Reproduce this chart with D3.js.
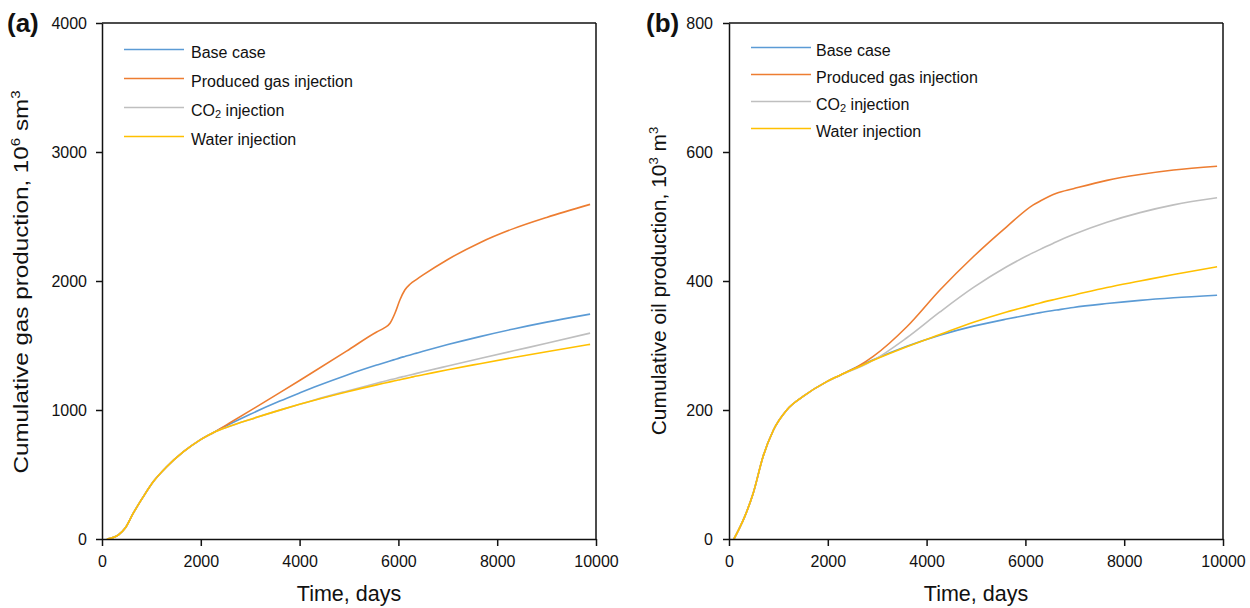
<!DOCTYPE html>
<html>
<head>
<meta charset="utf-8">
<script src="https://cdn.jsdelivr.net/npm/d3@7"></script>
<style>
  html, body { margin: 0; padding: 0; background: #fff; }
  svg { display: block; font-family: "Liberation Sans", Arial, sans-serif; }
</style>
</head>
<body>
<svg id="chart" width="1250" height="608"></svg>
<script>
// ---- Data ----------------------------------------------------------------
const seriesNames = ["Base case", "Produced gas injection", "CO2 injection", "Water injection"];
const seriesColors = ["#5B9BD5", "#ED7D31", "#BFBFBF", "#FFC000"];

// (a) cumulative gas production, 10^6 sm^3
const gasDays   = [100, 330, 470, 630, 840, 1040, 1310, 1650, 1980, 2250, 2600, 3000, 3600, 4000, 4300, 4950, 5560, 5700, 5830, 5930, 6030, 6130, 6240, 6370, 6500, 7000, 7650, 8330, 9000, 9880];
const gasBase   = [0, 31, 85, 198, 330, 445, 560, 677, 767, 824, 893, 967, 1069, 1132, 1178, 1270, 1348, 1365, 1380, 1392, 1404, 1415, 1427, 1441, 1455, 1507, 1569, 1628, 1681, 1743];
const gasProd   = [0, 31, 85, 198, 330, 445, 560, 677, 767, 824, 903, 995, 1135, 1229, 1300, 1456, 1605, 1633, 1672, 1750, 1853, 1930, 1977, 2013, 2047, 2167, 2297, 2406, 2493, 2594];
const gasCO2    = [0, 31, 85, 198, 330, 445, 560, 677, 767, 824, 876, 927, 999, 1044, 1078, 1146, 1207, 1221, 1234, 1243, 1253, 1262, 1272, 1284, 1296, 1341, 1399, 1459, 1517, 1596];
const gasWater  = [0, 31, 85, 198, 330, 445, 560, 677, 767, 824, 876, 927, 999, 1044, 1076, 1140, 1195, 1207, 1218, 1227, 1235, 1243, 1252, 1263, 1273, 1312, 1359, 1407, 1452, 1509];

// (b) cumulative oil production, 10^3 m^3
const oilDays   = [100, 320, 490, 690, 900, 1170, 1500, 1980, 2250, 2600, 2920, 3600, 4270, 4950, 5620, 6160, 6300, 6630, 6970, 7650, 8320, 9000, 9880];
const oilBase   = [0, 35, 71, 128, 169, 200, 221, 244, 254, 267, 278, 299, 316, 330, 341, 349, 351, 355, 359, 365, 370, 374, 378];
const oilProd   = [0, 35, 71, 128, 169, 200, 221, 244, 254, 267, 283, 329, 386, 438, 484, 518, 524, 536, 543, 556, 565, 572, 578];
const oilCO2    = [0, 35, 71, 128, 169, 200, 221, 244, 254, 265, 277, 312, 352, 390, 422, 444, 449, 461, 472, 491, 506, 518, 529];
const oilWater  = [0, 35, 71, 128, 169, 200, 221, 244, 254, 266, 277, 298, 317, 336, 352, 363, 366, 372, 378, 390, 400, 410, 422];

const xTicks    = [0, 2000, 4000, 6000, 8000, 10000];
const gasTicks  = [0, 1000, 2000, 3000, 4000];
const oilTicks  = [0, 200, 400, 600, 800];

// ---- Drawing -------------------------------------------------------------
const svg = d3.select("#chart");

const panels = [
  {
    tag: "(a)", tagX: 7,
    days: gasDays, series: [gasBase, gasProd, gasCO2, gasWater],
    yMax: 4000, yTicks: gasTicks,
    x0: 102, x1: 596, y0: 539, y1: 23,
    labelPad: 9,
    yTitle: ["Cumulative gas production, 10", "6", " sm", "3"],
    yTitleX: 28, yTitleY: 282, yTitleSize: 21, yTitleStretch: 1.155,
    legX: 124, legTextGap: 67, legY: 58, legStep: 29
  },
  {
    tag: "(b)", tagX: 646,
    days: oilDays, series: [oilBase, oilProd, oilCO2, oilWater],
    yMax: 800, yTicks: oilTicks,
    x0: 729, x1: 1223, y0: 539, y1: 23,
    labelPad: 10,
    yTitle: ["Cumulative oil production, 10", "3", " m", "3"],
    yTitleX: 666, yTitleY: 281, yTitleSize: 21, yTitleStretch: 1.0,
    legX: 751, legTextGap: 65, legY: 56, legStep: 27
  }
];

panels.forEach(p => {
  const x = d3.scaleLinear().domain([0, 10000]).range([p.x0, p.x1]);
  const y = d3.scaleLinear().domain([0, p.yMax]).range([p.y0, p.y1]);
  const g = svg.append("g");

  // curves
  const line = d3.line()
    .x(d => x(d[0]))
    .y(d => y(d[1]))
    .curve(d3.curveMonotoneX);

  p.series.forEach((vals, i) => {
    g.append("path")
      .datum(p.days.map((d, k) => [d, vals[k]]))
      .attr("fill", "none")
      .attr("stroke", seriesColors[i])
      .attr("stroke-width", 1.6)
      .attr("d", line);
  });

  // frame: top and right edges
  g.append("line")
    .attr("x1", p.x0).attr("x2", p.x1).attr("y1", p.y1).attr("y2", p.y1)
    .attr("stroke", "#111").attr("stroke-width", 1.5);
  g.append("line")
    .attr("x1", p.x1).attr("x2", p.x1).attr("y1", p.y1).attr("y2", p.y0)
    .attr("stroke", "#111").attr("stroke-width", 1.5);

  // axes
  const xAxis = d3.axisBottom(x).tickValues(xTicks).tickSize(7).tickSizeOuter(0).tickPadding(10).tickFormat(d3.format("d"));
  const yAxis = d3.axisLeft(y).tickValues(p.yTicks).tickSize(6).tickSizeOuter(0).tickPadding(p.labelPad).tickFormat(d3.format("d"));

  const gx = g.append("g").attr("transform", `translate(0,${p.y0})`).call(xAxis);
  const gy = g.append("g").attr("transform", `translate(${p.x0},0)`).call(yAxis);
  [gx, gy].forEach(ax => {
    ax.selectAll("path, line").attr("stroke", "#111").attr("stroke-width", 1.5);
    ax.selectAll("text").attr("fill", "#111").style("font-size", "16px")
      .style("font-family", '"Liberation Sans", Arial, sans-serif');
  });

  // x title
  g.append("text")
    .attr("x", (p.x0 + p.x1) / 2).attr("y", 601)
    .attr("text-anchor", "middle")
    .attr("fill", "#111")
    .style("font-size", "21.5px")
    .text("Time, days");

  // y title with superscripts
  const sup = Math.round(p.yTitleSize * 0.63);
  const yt = g.append("text")
    .attr("transform", `translate(${p.yTitleX},${p.yTitleY}) rotate(-90) scale(${p.yTitleStretch},1)`)
    .attr("text-anchor", "middle")
    .attr("fill", "#111")
    .style("font-size", p.yTitleSize + "px");
  yt.append("tspan").text(p.yTitle[0]);
  yt.append("tspan").attr("dy", -8).style("font-size", sup + "px").text(p.yTitle[1]);
  yt.append("tspan").attr("dy", 8).text(p.yTitle[2]);
  yt.append("tspan").attr("dy", -8).style("font-size", sup + "px").text(p.yTitle[3]);

  // panel tag
  g.append("text")
    .attr("x", p.tagX).attr("y", 32)
    .attr("fill", "#111")
    .style("font-size", "26px").style("font-weight", "bold")
    .text(p.tag);

  // legend
  seriesNames.forEach((name, i) => {
    const ly = p.legY + i * p.legStep;
    g.append("line")
      .attr("x1", p.legX).attr("x2", p.legX + 60)
      .attr("y1", ly - 8.5).attr("y2", ly - 8.5)
      .attr("stroke", seriesColors[i]).attr("stroke-width", 1.6);
    const t = g.append("text")
      .attr("x", p.legX + p.legTextGap).attr("y", ly)
      .attr("fill", "#111")
      .style("font-size", "16px");
    if (name === "CO2 injection") {
      t.append("tspan").text("CO");
      t.append("tspan").attr("dy", 2).style("font-size", "11px").text("2");
      t.append("tspan").attr("dy", -2).text(" injection");
    } else {
      t.text(name);
    }
  });
});
</script>
</body>
</html>
